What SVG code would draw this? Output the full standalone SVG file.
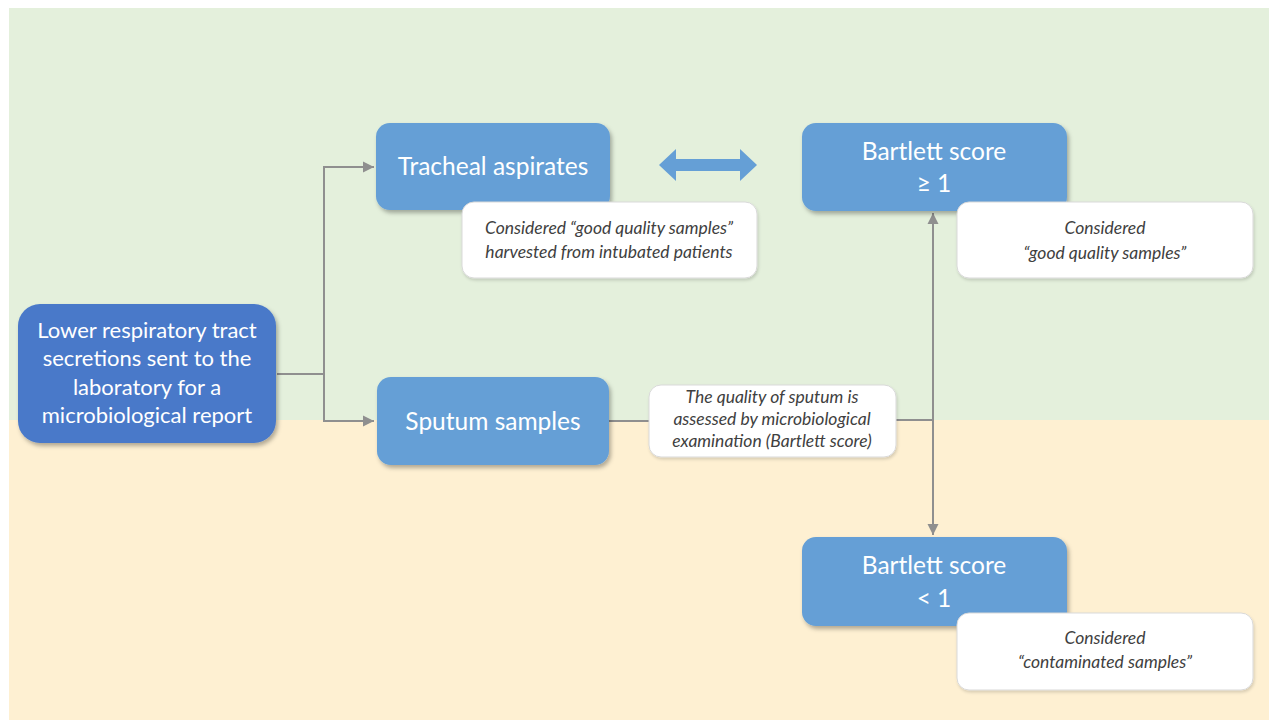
<svg xmlns="http://www.w3.org/2000/svg" width="1269" height="720" viewBox="0 0 1269 720">
<defs>
<style>
.bx{fill:#659fd6;}
.bx2{fill:#4a79c9;}
.nt{fill:#ffffff;stroke:#d9d9d9;stroke-width:1;}
.t{font-family:Lato,"Open Sans","Liberation Sans",sans-serif;fill:#ffffff;text-anchor:middle;}
.n{font-family:Lato,"Open Sans","Liberation Sans",sans-serif;font-style:italic;fill:#404040;text-anchor:middle;font-size:17.5px;}
.c{fill:none;stroke:#8f8f8f;stroke-width:2;}
</style>
<filter id="sh" x="-10%" y="-10%" width="125%" height="130%">
<feDropShadow dx="2" dy="3" stdDeviation="2" flood-color="#000" flood-opacity="0.3"/>
</filter>
<filter id="sh2" x="-10%" y="-10%" width="125%" height="130%">
<feDropShadow dx="1" dy="2" stdDeviation="1.5" flood-color="#000" flood-opacity="0.15"/>
</filter>
<marker id="ah" markerWidth="12" markerHeight="12" refX="11" refY="6" orient="auto" markerUnits="userSpaceOnUse">
<path d="M0,0.5 L11,6 L0,11.5 Z" fill="#8f8f8f"/>
</marker>
</defs>
<rect x="0" y="0" width="1269" height="720" fill="#ffffff"/>
<rect x="9" y="8" width="1260" height="412" fill="#e4f0dc"/>
<rect x="9" y="420" width="1260" height="300" fill="#fef0d2"/>

<g id="connectors">
<path class="c" d="M277,374 H324 V167 H374" marker-end="url(#ah)"/>
<path class="c" d="M324,374 V421 H374" marker-end="url(#ah)"/>
<path class="c" d="M609,421 H649"/>
<path class="c" d="M896,420 H933"/>
<path class="c" d="M933,420 V213" marker-end="url(#ah)"/>
<path class="c" d="M933,420 V535" marker-end="url(#ah)"/>
<path d="M659,165 L676,149 L676,159 L740,159 L740,149 L757,165 L740,181 L740,171 L676,171 L676,181 Z" fill="#659fd6"/>
</g>

<g id="node-lower">
<rect class="bx2" x="18" y="304" width="258" height="139" rx="22" filter="url(#sh)"/>
<text class="t" font-size="22" x="147"><tspan x="147" y="338">Lower respiratory tract</tspan><tspan x="147" y="366">secretions sent to the</tspan><tspan x="147" y="395">laboratory for a</tspan><tspan x="147" y="423">microbiological report</tspan></text>
</g>

<g id="node-tracheal">
<rect class="bx" x="376" y="123" width="234" height="87" rx="14" filter="url(#sh)"/>
<text class="t" font-size="24.5" x="493" y="175">Tracheal aspirates</text>
</g>

<g id="note-tracheal">
<rect class="nt" x="462" y="202" width="295" height="76" rx="12" filter="url(#sh2)"/>
<text class="n"><tspan x="609" y="234">Considered “good quality samples”</tspan><tspan x="609" y="258">harvested from intubated patients</tspan></text>
</g>

<g id="node-sputum">
<rect class="bx" x="377" y="377" width="232" height="88" rx="14" filter="url(#sh)"/>
<text class="t" font-size="24.5" x="493" y="430">Sputum samples</text>
</g>

<g id="note-sputum">
<rect class="nt" x="649" y="385" width="247" height="72" rx="12" filter="url(#sh2)"/>
<text class="n"><tspan x="772" y="403">The quality of sputum is</tspan><tspan x="772" y="425">assessed by microbiological</tspan><tspan x="772" y="447">examination (Bartlett score)</tspan></text>
</g>

<g id="node-bartlett-ge1">
<rect class="bx" x="802" y="123" width="265" height="88" rx="14" filter="url(#sh)"/>
<text class="t" font-size="24.5"><tspan x="934" y="160">Bartlett score</tspan><tspan x="934" y="192">≥ 1</tspan></text>
</g>

<g id="note-ge1">
<rect class="nt" x="957" y="202" width="296" height="76" rx="12" filter="url(#sh2)"/>
<text class="n"><tspan x="1105" y="234">Considered</tspan><tspan x="1105" y="259">“good quality samples”</tspan></text>
</g>

<g id="node-bartlett-lt1">
<rect class="bx" x="802" y="537" width="265" height="89" rx="14" filter="url(#sh)"/>
<text class="t" font-size="24.5"><tspan x="934" y="574">Bartlett score</tspan><tspan x="934" y="607">&lt; 1</tspan></text>
</g>

<g id="note-lt1">
<rect class="nt" x="957" y="613" width="296" height="77" rx="12" filter="url(#sh2)"/>
<text class="n"><tspan x="1105" y="644">Considered</tspan><tspan x="1105" y="668">“contaminated samples”</tspan></text>
</g>
</svg>
